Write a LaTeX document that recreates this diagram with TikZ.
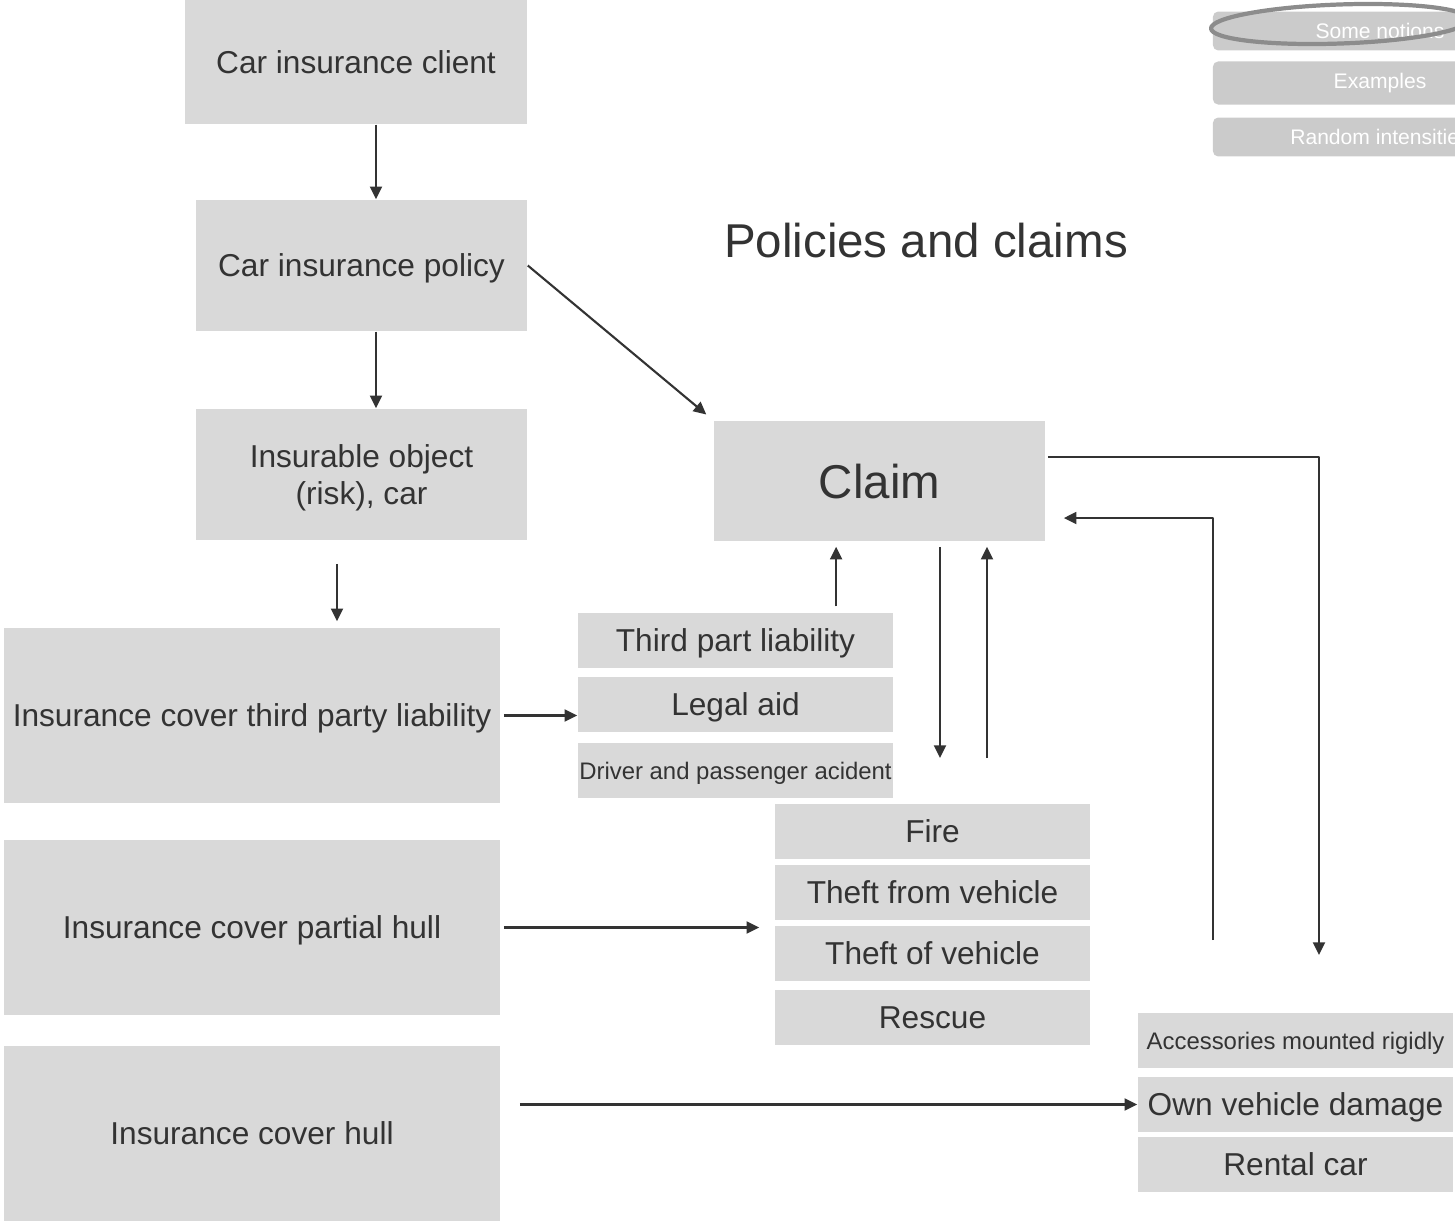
\documentclass[tikz,border=0pt]{standalone}
\usepackage{fontspec}
\setmainfont{Liberation Sans}
\usetikzlibrary{arrows.meta}
\definecolor{boxgray}{HTML}{D9D9D9}
\definecolor{inkgray}{HTML}{333333}
\definecolor{navgray}{HTML}{CBCBCB}
\definecolor{ringgray}{HTML}{8C8C8C}
\tikzset{
	box/.style={fill=boxgray, text=inkgray, inner sep=0pt, text depth=0pt, align=center, font=\fontsize{9}{10.5}\selectfont},
	tabbox/.style={box, minimum width=3.15cm, minimum height=0.55cm},
	coverbox/.style={box, minimum width=4.96cm, minimum height=1.75cm},
	navbtn/.style={fill=navgray, rounded corners=1.5pt, text=white, minimum width=3.34cm, minimum height=0.38cm, font=\fontsize{6}{7}\selectfont},
	link/.style={->, draw=inkgray, line width=0.6pt}
}
\begin{document}
\begin{tikzpicture}[x=0.01cm, y=-0.01cm, line join=round, >={Triangle[length=3.6pt,width=3.4pt]}]
	\useasboundingbox (0,0) rectangle (1455,1221);
	\begin{scope}
	\clip (0,0) rectangle (1455,1221);
	\foreach \n/\t/\y in {notions/Some notions/31, examples/Examples/83, intens/Random intensities/137}
		\node[navbtn] (\n) at (1380,\y) {\t};
	\draw[ringgray, line width=1.2pt, rotate around={2:(1340,24)}] (1340,24) ellipse [x radius=1.29cm, y radius=0.195cm];
	\end{scope}
	\node[box, minimum width=3.42cm, minimum height=1.24cm] (client) at (356,62) {Car insurance client};
	\node[box, minimum width=3.31cm, minimum height=1.31cm] (policy) at (361.5,265.5) {Car insurance policy};
	\node[box, minimum width=3.31cm, minimum height=1.31cm] (object) at (361.5,474.5) {Insurable object\\(risk), car};
	\node[box, minimum width=3.31cm, minimum height=1.2cm, font=\fontsize{13.5}{16}\selectfont] (claim) at (879.5,481) {Claim};
	\node[text=inkgray, font=\fontsize{13.5}{16}\selectfont] (title) at (926,241) {Policies and claims};
	\foreach \n/\t/\y in {liab/Insurance cover third party liability/715.5, partial/Insurance cover partial hull/927.5, hull/Insurance cover hull/1133.5}
		\node[coverbox] (\n) at (252,\y) {\t};
	\foreach \n/\t/\y in {third/Third part liability/640.5, legal/Legal aid/704.5}
		\node[tabbox] (\n) at (735.5,\y) {\t};
	\node[tabbox, font=\fontsize{6.8}{8}\selectfont] (driver) at (735.5,770.5) {Driver and passenger acident};
	\foreach \n/\t/\y in {fire/Fire/831.5, theftfrom/Theft from vehicle/892.5, theftof/Theft of vehicle/953.5, rescue/Rescue/1017.5}
		\node[tabbox] (\n) at (932.5,\y) {\t};
	\node[tabbox, font=\fontsize{6.8}{8}\selectfont] (access) at (1295.5,1040.5) {Accessories mounted rigidly};
	\foreach \n/\t/\y in {own/Own vehicle damage/1104.5, rental/Rental car/1164.5}
		\node[tabbox] (\n) at (1295.5,\y) {\t};
	\coordinate (downend) at (940,758);
	\coordinate (upstart) at (987,758);
	\coordinate (accend) at (1319,955);
	\coordinate (retstart) at (1213,940);
	\draw[link] ([xshift=2mm]client.south) -- ([xshift=2mm]client.south |- policy.north);
	\draw[link] ([xshift=1.45mm]policy.south) -- ([xshift=1.45mm]policy.south |- object.north);
	\draw[link, shorten <=2.3mm, shorten >=0.6mm] ([xshift=-2.45mm]object.south) -- ([xshift=-2.45mm]object.south |- liab.north);
	\draw[link, shorten >=0.9mm] (policy.east) -- (claim.north west);
	\draw[link, shorten <=0.3mm] (liab.east) -- (liab.east -| legal.west);
	\draw[link, shorten <=0.6mm, shorten >=0.5mm] ([xshift=1.005cm]third.north) -- ([xshift=1.005cm]third.north |- claim.south);
	\draw[link, shorten <=0.5mm] (claim.south -| downend) -- (downend);
	\draw[link, shorten >=0.5mm] (upstart) -- (upstart |- claim.south);
	\draw[link, shorten <=0.3mm, shorten >=1.5mm] (partial.east) -- (partial.east -| theftof.west);
	\draw[link, shorten <=0.2mm] ([yshift=2.4mm]claim.east) -| (accend);
	\draw[link, shorten >=1.8mm] (retstart) |- ([yshift=-3.7mm]claim.east);
	\draw[link, shorten <=1.9mm] (own.west -| hull.east) -- (own.west);
\end{tikzpicture}
\end{document}
